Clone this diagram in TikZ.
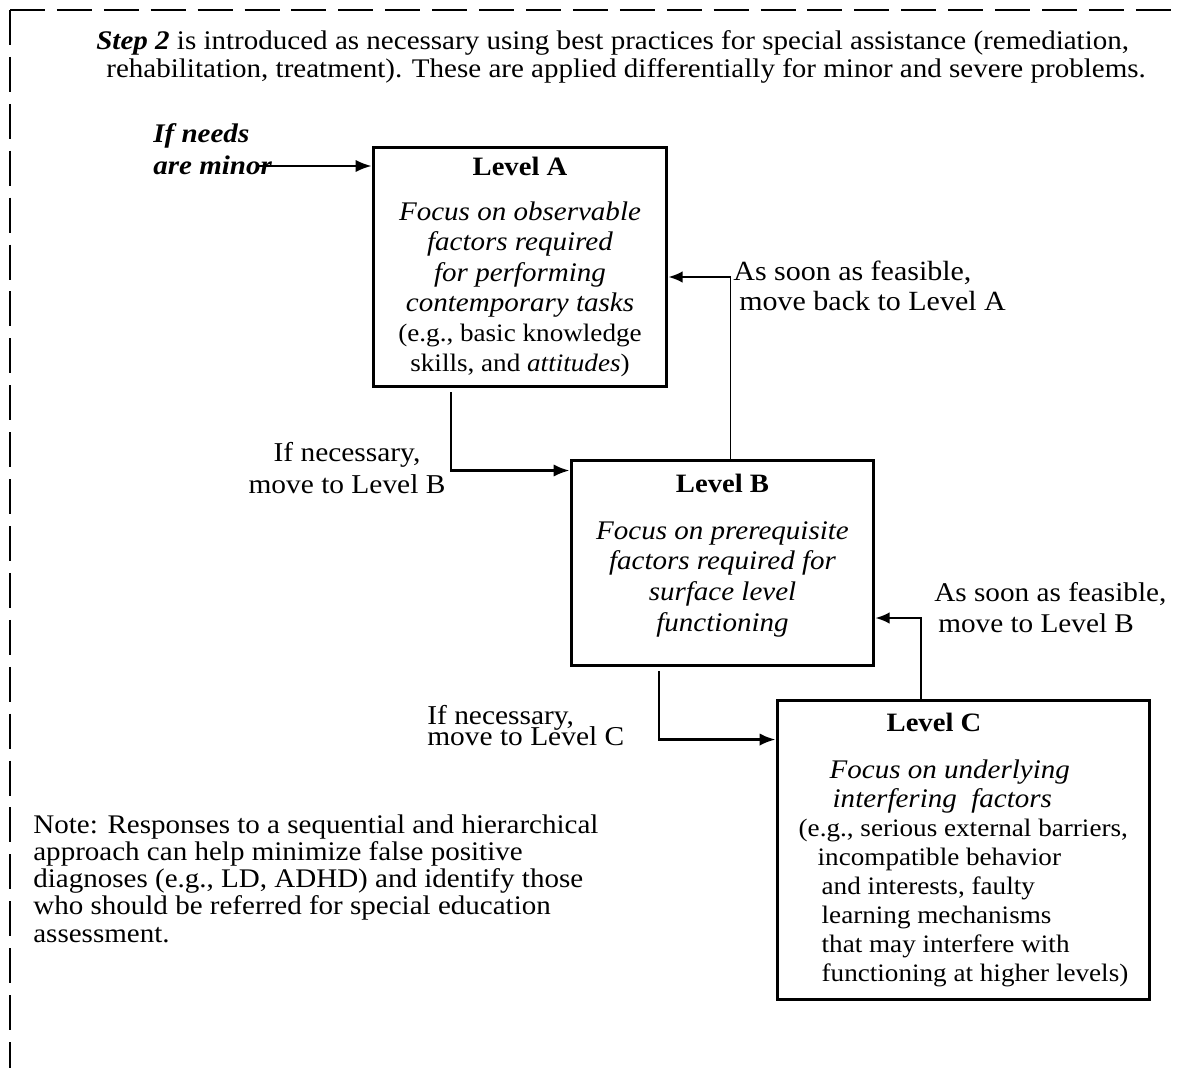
\documentclass[tikz,border=0pt]{standalone}
\usepackage{fontspec}
\setmainfont{Liberation Serif}[FakeStretch=1.08]
\usetikzlibrary{arrows.meta,calc}
\newcommand\uprt[1]{{\fontsize{14.3}{16}\selectfont #1}}
\tikzset{
  levelbox/.style={draw, line width=1.7pt, align=center, inner sep=0pt},
  stepline/.style={line width=1.5pt, -{Latex[length=9pt,width=7pt]}},
  backline/.style={line width=1.1pt, -{Latex[length=8pt,width=6.5pt]}},
  txt/.style={inner sep=0pt, align=left, font=\fontsize{15.3}{15.5}\selectfont},
  frame/.style={line width=1.1pt, dash pattern=on 19.9pt off 6.8pt},
}
\begin{document}
\begin{tikzpicture}[x=0.02cm, y=-0.02cm]
    \useasboundingbox (0,0) rectangle (1182,1068);
    \draw[frame] (10,10) -- (1182,10);
    \draw[frame] (10,10) -- (10,1068);
    \node[txt, anchor=base west] (intro) at (96,77) {\textbf{\textit{Step 2}} is introduced as necessary using best practices for special assistance (remediation,\\\hspace*{0.2cm}rehabilitation, treatment). These are applied differentially for minor and severe problems.};
    \node[txt, anchor=base west, font=\fontsize{15.3}{18.2}\selectfont\bfseries\itshape] (needs) at (153,174) {If needs\\are minor};
    \coordinate (minor) at (257,166);
    \node[levelbox, minimum width=5.88cm, minimum height=4.8cm, font=\fontsize{15.3}{17.1}\selectfont] (A) at (520,267) {{\fontsize{15.1}{17.1}\selectfont\bfseries Level A}\\[8.5pt]
        \textit{Focus on observable}\\ \textit{factors required}\\ \textit{for performing}\\ \textit{contemporary tasks}\\
        \uprt{(e.g., basic knowledge}\\ \uprt{skills, and \textit{attitudes})}};
    \node[levelbox, minimum width=6.06cm, minimum height=4.12cm, font=\fontsize{15.3}{17.6}\selectfont] (B) at (722.5,563) {{\fontsize{15.1}{17.6}\selectfont\bfseries Level B}\\[9pt]
        \textit{Focus on prerequisite}\\ \textit{factors required for}\\ \textit{surface level}\\ \textit{functioning}\\[-6pt]\mbox{}};
    \node[levelbox, align=left, minimum width=7.46cm, minimum height=6cm, font=\fontsize{15.3}{16.5}\selectfont] (C) at (963.5,850) {\hspace*{1.76cm}{\fontsize{15.1}{16.5}\selectfont\bfseries Level C}\\[10pt]
        \hspace*{0.62cm}\textit{Focus on underlying}\\
        \hspace*{0.68cm}\textit{interfering\ \ factors}\\
        \uprt{(e.g., serious external barriers,}\\
        \hspace*{0.38cm}\uprt{incompatible behavior}\\
        \hspace*{0.46cm}\uprt{and interests, faulty}\\
        \hspace*{0.46cm}\uprt{learning mechanisms}\\
        \hspace*{0.46cm}\uprt{that may interfere with}\\
        \hspace*{0.46cm}\uprt{functioning at higher levels)}};
    \node[txt, align=center, font=\fontsize{15.5}{18.2}\selectfont] (toB) at (347,468) {If necessary,\\move to Level B};
    \node[txt, anchor=base west, font=\fontsize{15.5}{12}\selectfont] (toC) at (427,745) {If necessary,\\[-3.4pt]move to Level C};
    \node[txt, anchor=base west, font=\fontsize{15.8}{17}\selectfont] (backA) at (733,310) {As soon as feasible,\\\hspace*{0.12cm}move back to Level A};
    \node[txt, anchor=base west, font=\fontsize{15.4}{17.6}\selectfont] (backB) at (934,632) {As soon as feasible,\\\hspace*{0.08cm}move to Level B};
    \node[txt, anchor=base west] (note) at (33,942) {Note: Responses to a sequential and hierarchical\\approach can help minimize false positive\\diagnoses (e.g., LD, ADHD) and identify those\\who should be referred for special education\\assessment.};
    \draw[stepline, line width=1.2pt] (minor) -- (minor -| A.west);
    \draw[stepline] ($(A.south)+(-69,4)$) |- ($(B.north west)+(0,12)$);
    \draw[stepline] ($(B.south)+(-63.5,4)$) |- ($(C.north west)+(0,41)$);
    \draw[backline] ($(B.north)+(8,0)$) |- ($(A.east)+(0,10)$);
    \draw[backline] ($(C.north)+(-42.5,0)$) |- ($(B.east)+(0,55)$);
\end{tikzpicture}
\end{document}
